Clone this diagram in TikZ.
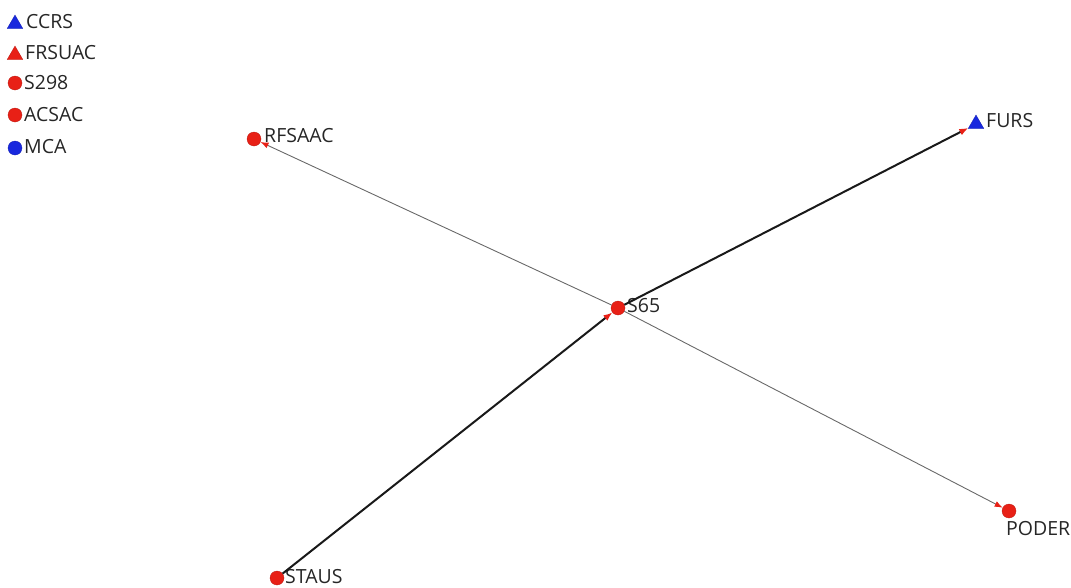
\documentclass[tikz,border=0pt]{standalone}
\usepackage{fontspec}
\setmainfont{Open Sans}
\usetikzlibrary{arrows.meta,shapes.geometric}
\definecolor{nred}{RGB}{232,32,22}
\definecolor{nblue}{RGB}{24,40,222}
\definecolor{egray}{RGB}{105,105,105}
\tikzset{
  rdot/.style={circle,fill=nred,draw=nred!80!black,line width=0.3pt,minimum size=14pt,inner sep=0pt},
  bdot/.style={circle,fill=nblue,draw=nblue!80!black,line width=0.3pt,minimum size=14pt,inner sep=0pt},
  btri/.style={regular polygon,regular polygon sides=3,fill=nblue,draw=nblue!80!black,line width=0.3pt,minimum size=18pt,inner sep=0pt},
  rtri/.style={regular polygon,regular polygon sides=3,fill=nred,draw=nred!80!black,line width=0.3pt,minimum size=18pt,inner sep=0pt},
  txt/.style={font=\fontsize{19.5pt}{21pt}\selectfont,text=black!85,inner sep=0pt},
  thinedge/.style={draw=egray,line width=0.9pt,-{Latex[length=8pt,width=6pt,color=nred]}},
  thickedge/.style={draw=black!90,line width=2pt,-{Latex[length=9pt,width=7pt,color=nred]}},
}
\begin{document}
\begin{tikzpicture}[x=1pt,y=-1pt]
\useasboundingbox (0,0) rectangle (1071,587);
% legend
\node[btri] (l1) at (15,24) {};
\node[txt,anchor=west] (l1t) at (26,22) {CCRS};
\node[rtri] (l2) at (15,55) {};
\node[txt,anchor=west] (l2t) at (25,53) {FRSUAC};
\node[rdot] (l3) at (15,83) {};
\node[txt,anchor=west] (l3t) at (24,83) {S298};
\node[rdot] (l4) at (15,115) {};
\node[txt,anchor=west] (l4t) at (24,115) {ACSAC};
\node[bdot] (l5) at (15,148) {};
\node[txt,anchor=west] (l5t) at (24,147) {MCA};
% network nodes
\node[rdot] (rfsaac) at (254,139) {};
\node[txt,anchor=west] (rfsaact) at (264,136) {RFSAAC};
\node[btri] (furs) at (976,124) {};
\node[txt,anchor=west] (furst) at (986,121) {FURS};
\node[rdot] (s65) at (618,308) {};
\node[txt,anchor=west] (s65t) at (627,306) {S65};
\node[rdot] (poder) at (1009,511) {};
\node[txt,anchor=north west] (podert) at (1006,521) {PODER};
\node[rdot] (staus) at (277,578) {};
\node[txt,anchor=west] (staust) at (285,577) {STAUS};
% edges
\draw[thinedge] (s65) -- (rfsaac);
\draw[thinedge] (s65) -- (poder);
\draw[thickedge] (s65) -- (furs);
\draw[thickedge] (staus) -- (s65);
\end{tikzpicture}
\end{document}
